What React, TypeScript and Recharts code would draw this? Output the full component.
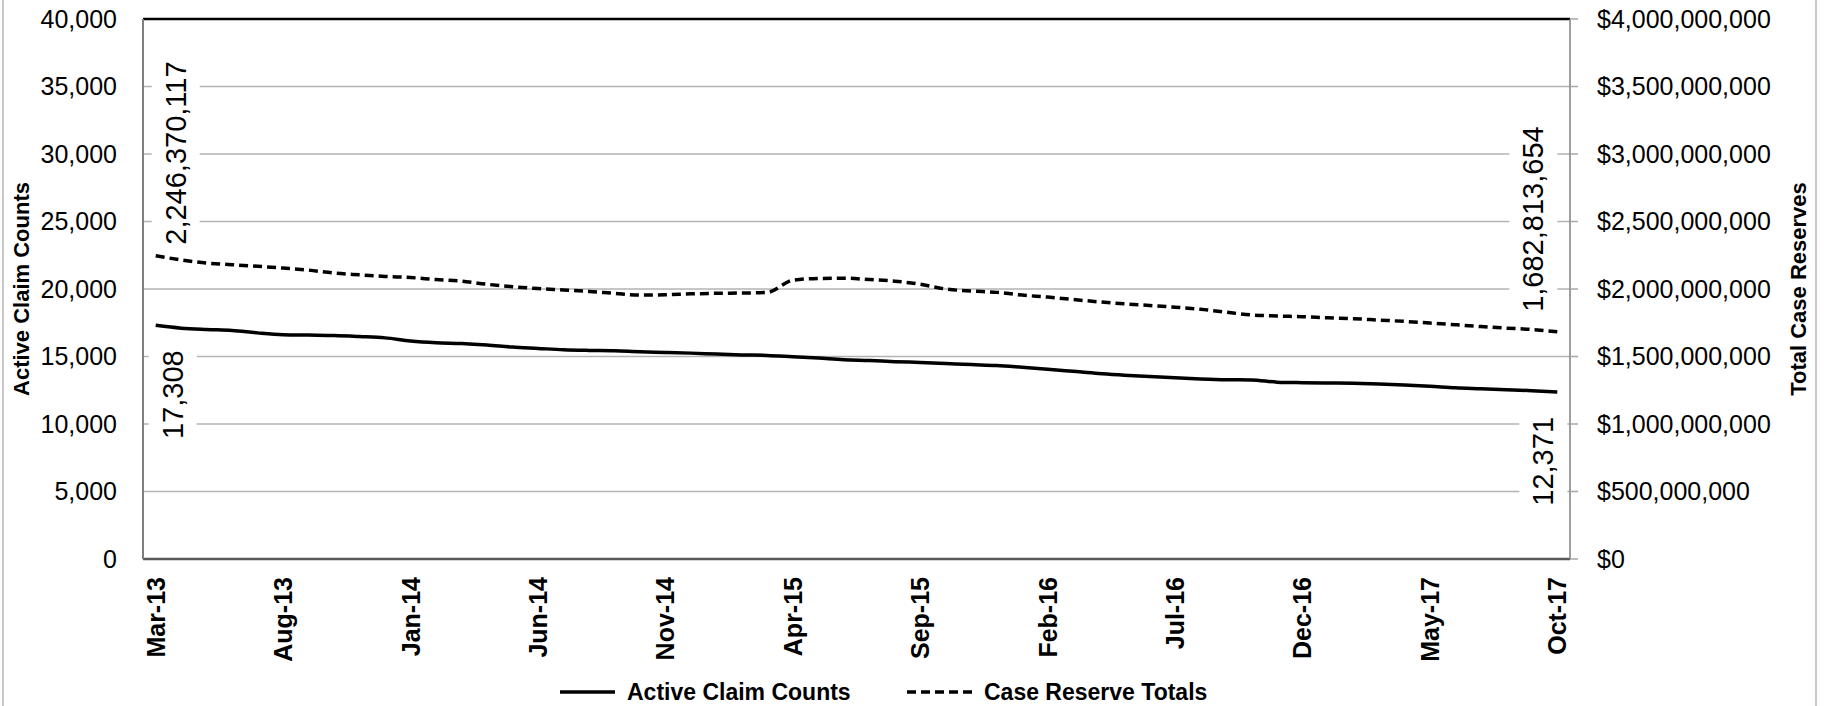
import React from 'react';
import { LineChart, Line, XAxis, YAxis, CartesianGrid, ReferenceLine, Legend, LabelList } from 'recharts';

const months = [
  'Mar-13', 'Apr-13', 'May-13', 'Jun-13', 'Jul-13', 'Aug-13', 'Sep-13', 'Oct-13', 'Nov-13', 'Dec-13',
  'Jan-14', 'Feb-14', 'Mar-14', 'Apr-14', 'May-14', 'Jun-14', 'Jul-14', 'Aug-14', 'Sep-14', 'Oct-14', 'Nov-14', 'Dec-14',
  'Jan-15', 'Feb-15', 'Mar-15', 'Apr-15', 'May-15', 'Jun-15', 'Jul-15', 'Aug-15', 'Sep-15', 'Oct-15', 'Nov-15', 'Dec-15',
  'Jan-16', 'Feb-16', 'Mar-16', 'Apr-16', 'May-16', 'Jun-16', 'Jul-16', 'Aug-16', 'Sep-16', 'Oct-16', 'Nov-16', 'Dec-16',
  'Jan-17', 'Feb-17', 'Mar-17', 'Apr-17', 'May-17', 'Jun-17', 'Jul-17', 'Aug-17', 'Sep-17', 'Oct-17',
];

// Active Claim Counts (left axis)
const claimCounts = [
  17308, 17100, 17000, 16930, 16750, 16620, 16590, 16560, 16480, 16380,
  16150, 16020, 15960, 15850, 15700, 15600, 15500, 15450, 15420, 15350, 15300, 15250,
  15180, 15120, 15080, 14980, 14880, 14760, 14700, 14620, 14560, 14480, 14400, 14330,
  14200, 14060, 13900, 13740, 13620, 13510, 13420, 13340, 13280, 13260, 13100, 13060,
  13040, 13010, 12960, 12880, 12790, 12680, 12610, 12540, 12470, 12371,
];

// Case Reserve Totals in dollars (right axis)
const reserveTotals = [
  2246370117, 2215000000, 2192000000, 2180000000, 2168000000, 2155000000, 2140000000, 2118000000, 2105000000, 2093000000,
  2085000000, 2070000000, 2058000000, 2035000000, 2017000000, 2003000000, 1993000000, 1982000000, 1968000000, 1955000000, 1957000000, 1964000000,
  1968000000, 1970000000, 1975000000, 2065000000, 2078000000, 2080000000, 2070000000, 2058000000, 2035000000, 2000000000, 1985000000, 1975000000,
  1955000000, 1940000000, 1922000000, 1905000000, 1890000000, 1878000000, 1865000000, 1850000000, 1828000000, 1808000000, 1800000000, 1795000000,
  1787000000, 1780000000, 1770000000, 1760000000, 1748000000, 1735000000, 1722000000, 1710000000, 1700000000, 1682813654,
];

const leftTicks = [0, 5000, 10000, 15000, 20000, 25000, 30000, 35000, 40000];
const rightTicks = [0, 500000000, 1000000000, 1500000000, 2000000000, 2500000000, 3000000000, 3500000000, 4000000000];

const data = months.map((m, i) => ({ month: m, claims: claimCounts[i], reserves: reserveTotals[i] }));

const FONT = '"Liberation Sans", Arial, sans-serif';
const fmt = (v: number) => v.toLocaleString('en-US');

const XTick = ({ x, y, payload }: any) => (
  <g transform={`translate(${x},${y})`}>
    <text transform="rotate(-90)" textAnchor="end" dy="0.36em" fontSize={25} fontWeight="bold" fill="#000">
      {payload.value}
    </text>
  </g>
);

const AxisTitle = ({ viewBox, text, side }: any) => {
  const vb = viewBox || {};
  const cy = (vb.y ?? 19) + (vb.height ?? 540) / 2;
  const cx = side === 'left' ? (vb.x ?? 0) + 21 : (vb.x ?? 1570) + 228;
  return (
    <text x={cx} y={cy} transform={`rotate(-90 ${cx} ${cy})`} textAnchor="middle" dominantBaseline="central"
      fontSize={22} fontWeight="bold" fill="#000">
      {text}
    </text>
  );
};

// end-of-series value labels, rotated, on a white box
const labelPlacement: Record<string, { first: number[]; last: number[]; above: boolean }> = {
  reserves: { first: [20, 11], last: [-24, 20], above: true },
  claims: { first: [17, 25], last: [-14, 25], above: false },
};

const makeEndLabel = (series: 'claims' | 'reserves') => (props: any) => {
  const { index } = props;
  const lastIdx = months.length - 1;
  if (index !== 0 && index !== lastIdx) return null;
  const x = props.viewBox?.x ?? props.x;
  const y = props.viewBox?.y ?? props.y;
  const value = series === 'claims' ? claimCounts[index] : reserveTotals[index];
  const text = fmt(value);
  const place = labelPlacement[series];
  const [dx, gap] = index === 0 ? place.first : place.last;
  const fs = 29;
  let len = 0;
  for (const ch of text) len += ch === ',' ? 0.278 * fs : 0.556 * fs;
  const ty = place.above ? y - gap : y + gap;
  return (
    <g transform={`translate(${x + dx},${ty}) rotate(-90)`}>
      <rect x={place.above ? -2 : -len - 2} y={-24} width={len + 4} height={48} fill="#fff" />
      <text x={0} y={0} textAnchor={place.above ? 'start' : 'end'} dominantBaseline="central" fontSize={fs} fill="#000">
        {text}
      </text>
    </g>
  );
};

const LegendContent = () => (
  <svg width={1825} height={34} style={{ display: 'block' }}>
    <line x1={560} x2={615} y1={18} y2={18} stroke="#000" strokeWidth={3.5} />
    <text x={627} y={18} dominantBaseline="central" fontSize={23} fontWeight="bold" fill="#000">Active Claim Counts</text>
    <line x1={907} x2={977} y1={18} y2={18} stroke="#000" strokeWidth={3.5} strokeDasharray="9 5" />
    <text x={984} y={18} dominantBaseline="central" fontSize={23} fontWeight="bold" fill="#000">Case Reserve Totals</text>
  </svg>
);

export default function App() {
  return (
    <div style={{ position: 'absolute', left: 0, top: 0, width: 1825, height: 706, fontFamily: FONT, background: '#fff' }}>
      <LineChart width={1825} height={706} data={data} margin={{ top: 19, right: 0, bottom: 0, left: 0 }}>
        <CartesianGrid yAxisId="left" vertical={false} stroke="#b3b3b3" strokeWidth={1.5} />
        <XAxis
          dataKey="month"
          interval={4}
          tickLine={false}
          tickSize={0}
          tickMargin={18}
          height={147}
          padding={{ left: 12.7, right: 12.7 }}
          axisLine={{ stroke: '#595959', strokeWidth: 2.5 }}
          tick={<XTick />}
        />
        <YAxis
          yAxisId="left"
          width={143}
          domain={[0, 40000]}
          ticks={leftTicks}
          tickFormatter={fmt}
          tickLine={false}
          tickSize={0}
          tickMargin={26}
          axisLine={{ stroke: '#7f7f7f', strokeWidth: 2 }}
          tick={{ fontSize: 25, fill: '#000' }}
          label={{ content: (p: any) => <AxisTitle viewBox={p.viewBox} text="Active Claim Counts" side="left" /> }}
        />
        <YAxis
          yAxisId="right"
          orientation="right"
          width={255}
          domain={[0, 4000000000]}
          ticks={rightTicks}
          tickFormatter={(v: number) => '$' + fmt(v)}
          tickSize={8}
          tickLine={{ stroke: '#a6a6a6', strokeWidth: 1.5 }}
          tickMargin={19}
          axisLine={{ stroke: '#7f7f7f', strokeWidth: 1.5 }}
          tick={{ fontSize: 25, fill: '#000' }}
          label={{ content: (p: any) => <AxisTitle viewBox={p.viewBox} text="Total Case Reserves" side="right" /> }}
        />
        <ReferenceLine yAxisId="left" y={40000} stroke="#000" strokeWidth={2.5} />
        <Legend
          verticalAlign="middle"
          align="center"
          layout="horizontal"
          wrapperStyle={{ top: 674, left: 0, width: 1825, height: 34 }}
          content={() => <LegendContent />}
        />
        <Line
          yAxisId="left"
          type="monotone"
          dataKey="claims"
          name="Active Claim Counts"
          stroke="#000"
          strokeWidth={3.5}
          dot={false}
          activeDot={false}
          isAnimationActive={false}
        >
          <LabelList dataKey="claims" content={makeEndLabel('claims')} />
        </Line>
        <Line
          yAxisId="right"
          type="monotone"
          dataKey="reserves"
          name="Case Reserve Totals"
          stroke="#000"
          strokeWidth={3.5}
          strokeDasharray="9 5"
          dot={false}
          activeDot={false}
          isAnimationActive={false}
        >
          <LabelList dataKey="reserves" content={makeEndLabel('reserves')} />
        </Line>
      </LineChart>
      <div style={{ position: 'absolute', left: 2, top: 0, width: 1.5, height: 706, background: '#c8c8c8' }} />
      <div style={{ position: 'absolute', left: 1815, top: 0, width: 1.5, height: 706, background: '#c8c8c8' }} />
    </div>
  );
}
